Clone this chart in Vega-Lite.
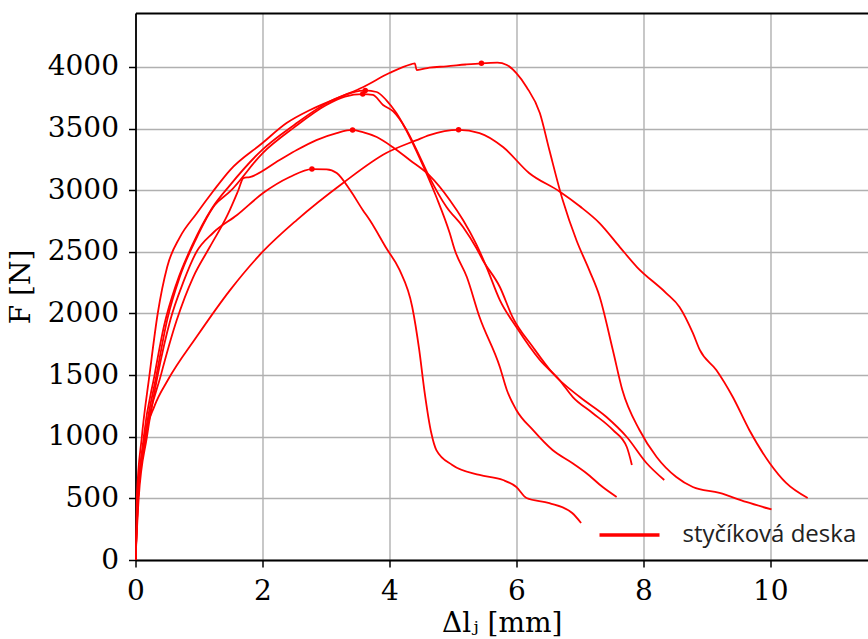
{
  "$schema": "https://vega.github.io/schema/vega-lite/v6.json",
  "width": 732.5,
  "height": 547,
  "autosize": {"type": "none"},
  "padding": {"left": 135.5, "top": 13, "right": 0, "bottom": 79},
  "background": "white",
  "config": {
    "view": {"stroke": null},
    "axis": {
      "domainColor": "#000000",
      "domainWidth": 1.8,
      "tickColor": "#000000",
      "tickWidth": 1.5,
      "tickSize": 7,
      "gridColor": "#b0b0b0",
      "gridWidth": 1.4,
      "labelFont": "DejaVu Serif",
      "labelFontSize": 28,
      "labelColor": "#000000",
      "titleFont": "DejaVu Serif",
      "titleFontSize": 28,
      "titleFontWeight": "normal",
      "titleColor": "#000000",
      "format": "d"
    }
  },
  "datasets": {
    "krivky": [
      {"k": "A", "dl": 0, "F": 0},
      {"k": "A", "dl": 0.02, "F": 500},
      {"k": "A", "dl": 0.1, "F": 1000},
      {"k": "A", "dl": 0.22, "F": 1500},
      {"k": "A", "dl": 0.35, "F": 2000},
      {"k": "A", "dl": 0.5, "F": 2380},
      {"k": "A", "dl": 0.7, "F": 2620},
      {"k": "A", "dl": 0.96, "F": 2810},
      {"k": "A", "dl": 1.22, "F": 2990},
      {"k": "A", "dl": 1.49, "F": 3164},
      {"k": "A", "dl": 2.0, "F": 3383},
      {"k": "A", "dl": 2.38, "F": 3545},
      {"k": "A", "dl": 2.75, "F": 3651},
      {"k": "A", "dl": 3.22, "F": 3756},
      {"k": "A", "dl": 3.59, "F": 3838},
      {"k": "A", "dl": 4.0, "F": 3951},
      {"k": "A", "dl": 4.35, "F": 4024},
      {"k": "A", "dl": 4.4, "F": 4030},
      {"k": "A", "dl": 4.43, "F": 3975},
      {"k": "A", "dl": 4.63, "F": 3995},
      {"k": "A", "dl": 4.9, "F": 4005},
      {"k": "A", "dl": 5.2, "F": 4020},
      {"k": "A", "dl": 5.45, "F": 4030},
      {"k": "A", "dl": 5.7, "F": 4035},
      {"k": "A", "dl": 5.85, "F": 4016},
      {"k": "A", "dl": 6.0, "F": 3950},
      {"k": "A", "dl": 6.16, "F": 3838},
      {"k": "A", "dl": 6.37, "F": 3626},
      {"k": "A", "dl": 6.52, "F": 3326},
      {"k": "A", "dl": 6.73, "F": 2920},
      {"k": "A", "dl": 6.95, "F": 2590},
      {"k": "A", "dl": 7.15, "F": 2350},
      {"k": "A", "dl": 7.31, "F": 2140},
      {"k": "A", "dl": 7.52, "F": 1704},
      {"k": "A", "dl": 7.67, "F": 1379},
      {"k": "A", "dl": 7.94, "F": 1055},
      {"k": "A", "dl": 8.21, "F": 836},
      {"k": "A", "dl": 8.52, "F": 673},
      {"k": "A", "dl": 8.78, "F": 592},
      {"k": "A", "dl": 9.2, "F": 544},
      {"k": "A", "dl": 9.62, "F": 471},
      {"k": "A", "dl": 10.02, "F": 410},

      {"k": "B", "dl": 0, "F": 0},
      {"k": "B", "dl": 0.03, "F": 500},
      {"k": "B", "dl": 0.15, "F": 1000},
      {"k": "B", "dl": 0.3, "F": 1250},
      {"k": "B", "dl": 0.51, "F": 1460},
      {"k": "B", "dl": 0.96, "F": 1809},
      {"k": "B", "dl": 1.49, "F": 2190},
      {"k": "B", "dl": 2.0, "F": 2499},
      {"k": "B", "dl": 2.54, "F": 2758},
      {"k": "B", "dl": 3.27, "F": 3059},
      {"k": "B", "dl": 3.95, "F": 3302},
      {"k": "B", "dl": 4.43, "F": 3407},
      {"k": "B", "dl": 4.63, "F": 3448},
      {"k": "B", "dl": 5.09, "F": 3490},
      {"k": "B", "dl": 5.42, "F": 3464},
      {"k": "B", "dl": 5.79, "F": 3351},
      {"k": "B", "dl": 6.2, "F": 3140},
      {"k": "B", "dl": 6.68, "F": 2990},
      {"k": "B", "dl": 7.0, "F": 2870},
      {"k": "B", "dl": 7.31, "F": 2734},
      {"k": "B", "dl": 7.63, "F": 2539},
      {"k": "B", "dl": 7.9, "F": 2377},
      {"k": "B", "dl": 8.36, "F": 2166},
      {"k": "B", "dl": 8.57, "F": 2053},
      {"k": "B", "dl": 8.78, "F": 1842},
      {"k": "B", "dl": 8.89, "F": 1704},
      {"k": "B", "dl": 9.15, "F": 1541},
      {"k": "B", "dl": 9.41, "F": 1322},
      {"k": "B", "dl": 9.67, "F": 1055},
      {"k": "B", "dl": 9.99, "F": 787},
      {"k": "B", "dl": 10.25, "F": 625},
      {"k": "B", "dl": 10.59, "F": 503},

      {"k": "C", "dl": 0, "F": 0},
      {"k": "C", "dl": 0.05, "F": 500},
      {"k": "C", "dl": 0.18, "F": 1000},
      {"k": "C", "dl": 0.35, "F": 1500},
      {"k": "C", "dl": 0.55, "F": 1950},
      {"k": "C", "dl": 0.75, "F": 2250},
      {"k": "C", "dl": 0.96, "F": 2499},
      {"k": "C", "dl": 1.22, "F": 2653},
      {"k": "C", "dl": 1.6, "F": 2799},
      {"k": "C", "dl": 2.01, "F": 2977},
      {"k": "C", "dl": 2.43, "F": 3107},
      {"k": "C", "dl": 2.78, "F": 3172},
      {"k": "C", "dl": 3.01, "F": 3170},
      {"k": "C", "dl": 3.17, "F": 3140},
      {"k": "C", "dl": 3.38, "F": 3002},
      {"k": "C", "dl": 3.58, "F": 2840},
      {"k": "C", "dl": 3.69, "F": 2758},
      {"k": "C", "dl": 3.95, "F": 2531},
      {"k": "C", "dl": 4.16, "F": 2353},
      {"k": "C", "dl": 4.36, "F": 2053},
      {"k": "C", "dl": 4.47, "F": 1704},
      {"k": "C", "dl": 4.55, "F": 1379},
      {"k": "C", "dl": 4.66, "F": 1030},
      {"k": "C", "dl": 4.74, "F": 892},
      {"k": "C", "dl": 4.99, "F": 771},
      {"k": "C", "dl": 5.42, "F": 690},
      {"k": "C", "dl": 5.79, "F": 649},
      {"k": "C", "dl": 6.0, "F": 592},
      {"k": "C", "dl": 6.16, "F": 503},
      {"k": "C", "dl": 6.52, "F": 462},
      {"k": "C", "dl": 6.88, "F": 381},
      {"k": "C", "dl": 7.02, "F": 300},

      {"k": "D", "dl": 0, "F": 0},
      {"k": "D", "dl": 0.04, "F": 500},
      {"k": "D", "dl": 0.16, "F": 1000},
      {"k": "D", "dl": 0.4, "F": 1500},
      {"k": "D", "dl": 0.65, "F": 1947},
      {"k": "D", "dl": 0.91, "F": 2296},
      {"k": "D", "dl": 1.17, "F": 2539},
      {"k": "D", "dl": 1.45, "F": 2800},
      {"k": "D", "dl": 1.62, "F": 3000},
      {"k": "D", "dl": 1.7, "F": 3099},
      {"k": "D", "dl": 1.8, "F": 3107},
      {"k": "D", "dl": 2.27, "F": 3245},
      {"k": "D", "dl": 2.54, "F": 3326},
      {"k": "D", "dl": 2.85, "F": 3407},
      {"k": "D", "dl": 3.17, "F": 3464},
      {"k": "D", "dl": 3.42, "F": 3489},
      {"k": "D", "dl": 3.58, "F": 3472},
      {"k": "D", "dl": 3.8, "F": 3432},
      {"k": "D", "dl": 4.05, "F": 3351},
      {"k": "D", "dl": 4.32, "F": 3245},
      {"k": "D", "dl": 4.63, "F": 3120},
      {"k": "D", "dl": 4.95, "F": 2921},
      {"k": "D", "dl": 5.16, "F": 2758},
      {"k": "D", "dl": 5.37, "F": 2560},
      {"k": "D", "dl": 5.53, "F": 2377},
      {"k": "D", "dl": 5.74, "F": 2109},
      {"k": "D", "dl": 6.0, "F": 1890},
      {"k": "D", "dl": 6.37, "F": 1623},
      {"k": "D", "dl": 6.68, "F": 1460},
      {"k": "D", "dl": 6.89, "F": 1322},
      {"k": "D", "dl": 7.2, "F": 1193},
      {"k": "D", "dl": 7.52, "F": 1055},
      {"k": "D", "dl": 7.74, "F": 917},
      {"k": "D", "dl": 7.82, "F": 771},

      {"k": "E", "dl": 0, "F": 0},
      {"k": "E", "dl": 0.04, "F": 500},
      {"k": "E", "dl": 0.13, "F": 1000},
      {"k": "E", "dl": 0.3, "F": 1500},
      {"k": "E", "dl": 0.45, "F": 1900},
      {"k": "E", "dl": 0.65, "F": 2250},
      {"k": "E", "dl": 0.9, "F": 2560},
      {"k": "E", "dl": 1.2, "F": 2850},
      {"k": "E", "dl": 1.49, "F": 3042},
      {"k": "E", "dl": 2.0, "F": 3330},
      {"k": "E", "dl": 2.5, "F": 3530},
      {"k": "E", "dl": 3.06, "F": 3720},
      {"k": "E", "dl": 3.4, "F": 3790},
      {"k": "E", "dl": 3.62, "F": 3810},
      {"k": "E", "dl": 3.8, "F": 3797},
      {"k": "E", "dl": 3.95, "F": 3732},
      {"k": "E", "dl": 4.11, "F": 3626},
      {"k": "E", "dl": 4.32, "F": 3432},
      {"k": "E", "dl": 4.53, "F": 3200},
      {"k": "E", "dl": 4.74, "F": 2945},
      {"k": "E", "dl": 4.95, "F": 2653},
      {"k": "E", "dl": 5.03, "F": 2515},
      {"k": "E", "dl": 5.22, "F": 2296},
      {"k": "E", "dl": 5.42, "F": 1971},
      {"k": "E", "dl": 5.74, "F": 1566},
      {"k": "E", "dl": 5.85, "F": 1379},
      {"k": "E", "dl": 6.0, "F": 1217},
      {"k": "E", "dl": 6.26, "F": 1055},
      {"k": "E", "dl": 6.57, "F": 892},
      {"k": "E", "dl": 6.88, "F": 787},
      {"k": "E", "dl": 7.1, "F": 706},
      {"k": "E", "dl": 7.36, "F": 592},
      {"k": "E", "dl": 7.58, "F": 511},

      {"k": "F", "dl": 0, "F": 0},
      {"k": "F", "dl": 0.04, "F": 500},
      {"k": "F", "dl": 0.15, "F": 1000},
      {"k": "F", "dl": 0.33, "F": 1500},
      {"k": "F", "dl": 0.5, "F": 1950},
      {"k": "F", "dl": 0.7, "F": 2300},
      {"k": "F", "dl": 0.95, "F": 2600},
      {"k": "F", "dl": 1.25, "F": 2880},
      {"k": "F", "dl": 1.49, "F": 2990},
      {"k": "F", "dl": 2.0, "F": 3300},
      {"k": "F", "dl": 2.5, "F": 3510},
      {"k": "F", "dl": 3.0, "F": 3690},
      {"k": "F", "dl": 3.3, "F": 3760},
      {"k": "F", "dl": 3.58, "F": 3780},
      {"k": "F", "dl": 3.74, "F": 3773},
      {"k": "F", "dl": 3.9, "F": 3692},
      {"k": "F", "dl": 4.06, "F": 3640},
      {"k": "F", "dl": 4.27, "F": 3489},
      {"k": "F", "dl": 4.43, "F": 3326},
      {"k": "F", "dl": 4.63, "F": 3107},
      {"k": "F", "dl": 4.9, "F": 2864},
      {"k": "F", "dl": 5.16, "F": 2702},
      {"k": "F", "dl": 5.37, "F": 2531},
      {"k": "F", "dl": 5.47, "F": 2434},
      {"k": "F", "dl": 5.74, "F": 2215},
      {"k": "F", "dl": 5.94, "F": 1971},
      {"k": "F", "dl": 6.26, "F": 1728},
      {"k": "F", "dl": 6.57, "F": 1517},
      {"k": "F", "dl": 7.0, "F": 1322},
      {"k": "F", "dl": 7.42, "F": 1160},
      {"k": "F", "dl": 7.74, "F": 998},
      {"k": "F", "dl": 8.05, "F": 787},
      {"k": "F", "dl": 8.33, "F": 649}
    ],
    "maxima": [
      {"k": "A", "dl": 5.45, "F": 4030},
      {"k": "B", "dl": 5.09, "F": 3490},
      {"k": "C", "dl": 2.78, "F": 3172},
      {"k": "D", "dl": 3.42, "F": 3489},
      {"k": "E", "dl": 3.62, "F": 3810},
      {"k": "F", "dl": 3.58, "F": 3780}
    ]
  },
  "layer": [
    {
      "data": {"name": "krivky"},
      "mark": {"type": "line", "strokeWidth": 1.8, "clip": true, "interpolate": "monotone"},
      "encoding": {
        "x": {
          "field": "dl",
          "type": "quantitative",
          "scale": {"domain": [0, 11.54], "nice": false, "zero": false},
          "axis": {
            "orient": "bottom",
            "values": [0, 2, 4, 6, 8, 10],
            "labelPadding": 10,
            "labelFlush": false,
            "labelOverlap": false,
            "title": "Δlⱼ [mm]",
            "titlePadding": 4
          }
        },
        "y": {
          "field": "F",
          "type": "quantitative",
          "scale": {"domain": [0, 4438], "nice": false},
          "axis": {
            "values": [0, 500, 1000, 1500, 2000, 2500, 3000, 3500, 4000],
            "labelPadding": 10,
            "labelFlush": false,
            "labelOverlap": false,
            "title": "F [N]",
            "titlePadding": 12
          }
        },
        "detail": {"field": "k"},
        "color": {
          "datum": "styčíková deska",
          "scale": {"range": ["#ff0000"]},
          "legend": {
            "title": null,
            "orient": "none",
            "legendX": 462,
            "legendY": 490,
            "padding": 0,
            "symbolType": "stroke",
            "symbolSize": 3600,
            "symbolStrokeWidth": 3.5,
            "symbolStrokeColor": "#ff0000",
            "labelFont": "Open Sans",
            "labelFontSize": 24,
            "labelColor": "#222222",
            "labelOffset": 21,
            "labelLimit": 0
          }
        }
      }
    },
    {
      "data": {"name": "maxima"},
      "mark": {"type": "point", "filled": true, "size": 30, "color": "#ff0000", "opacity": 1},
      "encoding": {
        "x": {
          "field": "dl",
          "type": "quantitative",
          "axis": {
            "orient": "top",
            "labels": false,
            "ticks": false,
            "grid": false,
            "title": null
          }
        },
        "y": {"field": "F", "type": "quantitative"}
      }
    }
  ],
  "resolve": {"axis": {"x": "independent"}}
}
